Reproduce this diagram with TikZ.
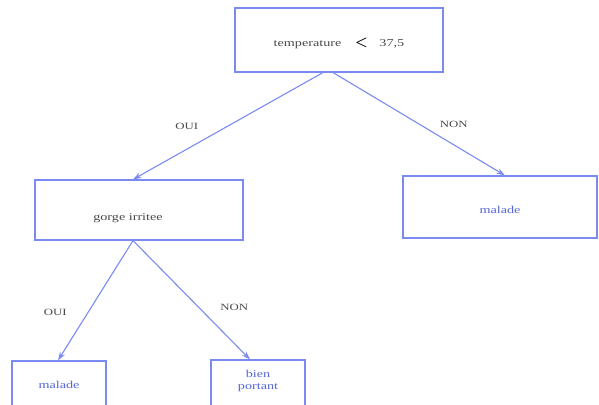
\documentclass[tikz,border=0pt]{standalone}
\usepackage{fontspec}
\setmainfont[FakeStretch=1.35]{Liberation Serif}
\usepackage{xcolor}
\usepackage{tikz}
\usetikzlibrary{arrows.meta,positioning}
\definecolor{dtBlue}{HTML}{7A8AF2}
\definecolor{dtInk}{HTML}{4A4A4A}
\definecolor{dtLeaf}{HTML}{5566D8}

\begin{document}
\begin{tikzpicture}[x=1pt,y=-1pt,font=\fontsize{10.5}{11}\selectfont,text=dtInk,
  q/.style={draw=dtBlue,fill=white,line width=1.1pt,inner sep=0pt,align=center},
  leaf/.style={q,text=dtLeaf},
  low/.style={text height=15pt,text depth=2.5pt},
  a/.style={-{Stealth[length=3mm,width=2mm]},dtBlue,line width=1.1pt},
  lbl/.style={font=\fontsize{9.5}{10}\selectfont,text=dtInk}]
\useasboundingbox (0,0) rectangle (599,404);
\node[q,low,minimum width=208pt,minimum height=64pt] (temp) at (339,40)
  {temperature\hspace{1.3em}{\color{black}\boldmath\Large$<$}\hspace{1.1em}37,5};
\node[q,minimum width=208pt,minimum height=60pt,
  label={[text=dtInk,xshift=-11pt,yshift=-8pt]center:gorge irritee}] (gorge) at (139,210) {};
\node[leaf,low,minimum width=194pt,minimum height=62pt] (mal1) at (500,207) {malade};
\node[leaf,minimum width=94pt,minimum height=48pt] (mal2) at (59,385) {malade};
\node[leaf,minimum width=94pt,minimum height=50pt,
  label={[text=dtLeaf,align=center,font=\fontsize{10.5}{11.5}\selectfont,yshift=4pt]center:bien\\portant}] (bien) at (258,385) {};
\draw[a] ([xshift=-16pt]temp.south) -- node[lbl,midway,left=26pt]{OUI} ([xshift=-6pt]gorge.north);
\draw[a] ([xshift=-6pt]temp.south) -- node[lbl,midway,right=17pt]{NON} ([xshift=5pt]mal1.north);
\draw[a] ([xshift=-6pt]gorge.south) -- node[lbl,midway,left=25pt,yshift=-12pt]{OUI} ([xshift=-1pt]mal2.north);
\draw[a] ([xshift=-6pt]gorge.south) -- node[lbl,midway,right=25pt,yshift=-7pt]{NON} ([xshift=-8pt]bien.north);
\end{tikzpicture}
\end{document}
